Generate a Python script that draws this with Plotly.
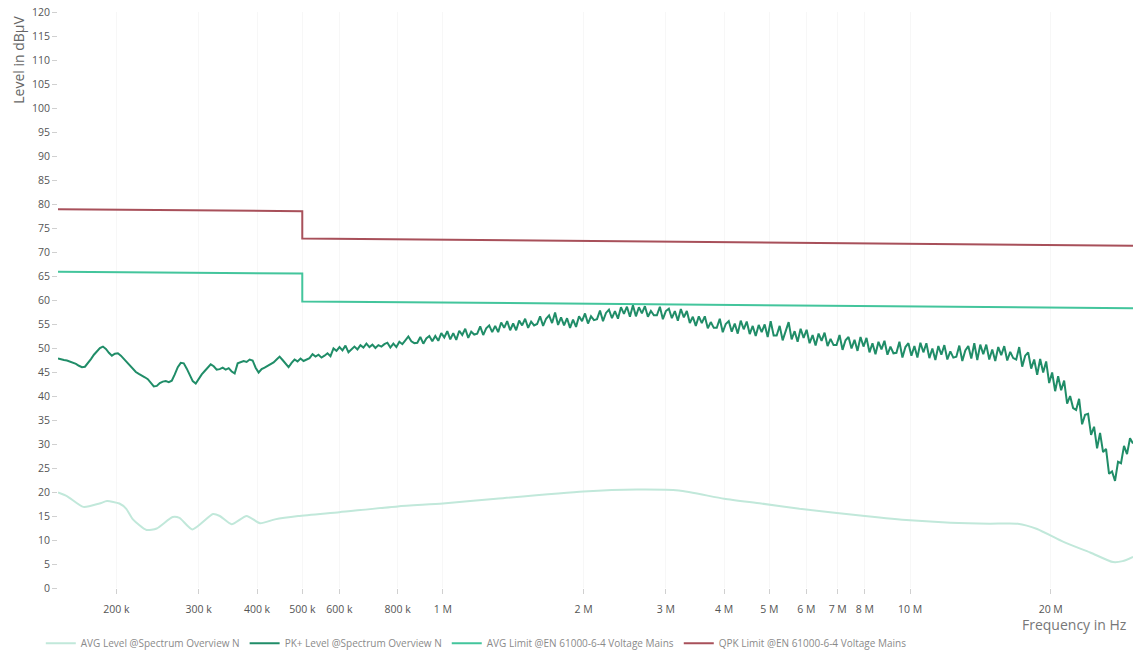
import numpy as np
import plotly.graph_objects as go

# ---------------- data ----------------
# PK+ level: analyser sweep on a log-spaced frequency grid 150 kHz .. 30 MHz (360 points)
PK_SWEEP_START_HZ = 150e3
PK_SWEEP_STOP_HZ = 30e6
PK_LEVEL = [
    47.8, 47.6, 47.5, 47.4, 47.2, 47.0, 46.7, 46.3, 46.0, 46.1,
    46.8, 47.7, 48.6, 49.4, 50.0, 50.3, 49.8, 49.0, 48.4, 48.8,
    48.9, 48.4, 47.7, 47.2, 46.5, 45.6, 45.0, 44.6, 44.3, 43.9,
    43.5, 42.7, 42.0, 42.1, 42.7, 43.0, 43.1, 42.9, 43.2, 44.5,
    46.0, 46.9, 46.8, 45.7, 44.3, 43.1, 42.6, 43.6, 44.5, 45.2,
    45.9, 46.6, 46.2, 45.5, 45.6, 45.9, 45.5, 45.8, 45.1, 44.7,
    46.8, 47.0, 47.3, 47.1, 47.6, 47.4, 45.9, 44.9, 45.6, 45.9,
    46.3, 46.6, 47.0, 47.6, 48.2, 47.5, 46.8, 46.0, 46.9, 47.6,
    47.2, 47.8, 47.3, 47.6, 47.9, 48.7, 48.2, 48.6, 48.0, 48.4,
    48.9, 48.3, 49.9, 49.4, 50.2, 49.5, 50.5, 49.1, 49.8, 50.3,
    49.7, 50.6, 50.1, 50.9, 50.2, 50.7, 50.0, 50.6, 50.3, 50.8,
    51.1, 50.1, 50.9, 50.2, 51.3, 50.8, 51.6, 52.4, 51.4, 51.0,
    51.1, 52.3, 50.9, 52.0, 52.5, 51.4, 52.5, 51.5, 53.1, 52.2,
    53.5, 51.8, 53.1, 51.7, 53.6, 52.7, 54.0, 52.1, 53.4, 52.8,
    53.0, 54.5, 52.7, 54.1, 54.7, 53.3, 54.6, 53.3, 55.3, 54.2,
    55.6, 53.7, 55.1, 53.7, 55.7, 54.7, 56.1, 54.2, 55.5, 54.7,
    55.0, 56.6, 54.6, 56.1, 56.8, 55.2, 57.4, 54.8, 56.4, 54.7,
    56.2, 54.2, 55.9, 54.4, 56.6, 55.6, 57.2, 55.1, 56.6, 55.8,
    56.0, 57.8, 55.6, 57.3, 58.0, 56.2, 57.7, 56.1, 58.5, 57.1,
    58.6, 56.5, 58.9, 56.6, 58.5, 57.2, 58.7, 56.5, 57.7, 56.8,
    56.8, 58.6, 56.0, 57.7, 58.2, 56.2, 57.7, 55.7, 58.1, 56.4,
    57.7, 55.2, 56.5, 54.6, 56.6, 55.2, 56.6, 54.1, 55.4, 54.2,
    54.2, 56.1, 53.3, 55.0, 55.6, 53.4, 55.1, 53.0, 55.7, 53.9,
    55.5, 52.9, 54.6, 52.5, 54.8, 53.3, 54.9, 52.3, 55.6, 52.6,
    52.6, 54.6, 51.6, 53.5, 55.4, 51.8, 53.5, 51.3, 54.0, 52.1,
    53.8, 51.0, 52.7, 50.5, 53.0, 51.5, 53.2, 50.4, 51.9, 50.6,
    50.6, 52.7, 49.6, 51.6, 52.3, 49.9, 51.7, 49.4, 52.3, 50.3,
    52.1, 49.1, 51.0, 48.7, 51.3, 49.7, 51.5, 48.6, 50.3, 48.9,
    49.0, 51.3, 48.0, 50.2, 51.0, 48.4, 50.4, 48.0, 51.1, 49.1,
    51.0, 47.9, 49.9, 47.5, 50.4, 48.6, 50.6, 47.6, 49.3, 48.0,
    48.2, 50.5, 47.3, 49.5, 50.4, 47.8, 51.0, 47.5, 50.7, 48.7,
    50.7, 47.6, 49.7, 47.3, 50.2, 48.5, 50.4, 47.4, 49.2, 47.9,
    47.6, 50.2, 46.1, 48.4, 49.1, 45.7, 47.6, 44.4, 47.7, 44.9,
    47.2, 42.7, 44.9, 41.0, 44.1, 41.2, 43.2, 38.4, 40.0, 37.5,
    37.1, 39.4, 34.1, 36.1, 36.3, 31.9, 33.6, 29.1, 32.3, 28.3,
    29.0, 23.8, 24.3, 22.3, 26.3, 26.0, 29.6, 27.9, 31.2, 30.1,
]

# AVG level (frequency in MHz, level in dBuV)
AVG_FREQ_MHZ = [0.150, 0.157, 0.170, 0.184, 0.191, 0.203, 0.210, 0.217, 0.232, 0.244,
                0.264, 0.273, 0.291, 0.322, 0.333, 0.353, 0.380, 0.406, 0.437, 0.49,
                0.60, 0.80, 1.0, 1.3, 2.0, 2.6, 3.2, 4.0, 4.8, 5.8,
                8.0, 10.0, 12.2, 14.8, 17.0, 18.7, 21.3, 24.3, 27.2, 28.5, 30.0]
AVG_LEVEL = [19.9, 19.1, 16.9, 17.6, 18.1, 17.6, 16.5, 14.3, 12.1, 12.4,
             14.8, 14.6, 12.2, 15.4, 15.0, 13.3, 15.0, 13.5, 14.3, 15.0,
             15.8, 17.0, 17.6, 18.6, 20.1, 20.5, 20.3, 18.6, 17.6, 16.5,
             15.0, 14.1, 13.6, 13.4, 13.4, 12.3, 9.6, 7.4, 5.4, 5.6, 6.5]

# Limits EN 61000-6-4 voltage mains
LIMIT_FREQ_MHZ = [0.15, 0.5, 0.5, 30.0]
AVG_LIMIT = [65.9, 65.5, 59.7, 58.3]
QPK_LIMIT = [78.9, 78.5, 72.8, 71.3]

X_TICK_HZ = [200e3, 300e3, 400e3, 500e3, 600e3, 800e3, 1e6, 2e6, 3e6, 4e6,
             5e6, 6e6, 7e6, 8e6, 10e6, 20e6]
X_TICK_TEXT = ["200 k", "300 k", "400 k", "500 k", "600 k", "800 k", "1 M", "2 M",
               "3 M", "4 M", "5 M", "6 M", "7 M", "8 M", "10 M", "20 M"]

NAMES = ["AVG Level @Spectrum Overview N", "PK+ Level @Spectrum Overview N",
         "AVG Limit @EN 61000-6-4 Voltage Mains", "QPK Limit @EN 61000-6-4 Voltage Mains"]
COLORS = ["#c1e8da", "#208d68", "#43c59c", "#a8505a"]

# ---------------- figure ----------------
pk_freq = np.geomspace(PK_SWEEP_START_HZ, PK_SWEEP_STOP_HZ, len(PK_LEVEL))
avg_freq = [f * 1e6 for f in AVG_FREQ_MHZ]
lim_freq = [f * 1e6 for f in LIMIT_FREQ_MHZ]

FONT = "Open Sans, Noto Sans, sans-serif"
fig = go.Figure()
fig.add_trace(go.Scatter(x=avg_freq, y=AVG_LEVEL, mode="lines", name=NAMES[0],
                         line=dict(color=COLORS[0], width=2, shape="spline", smoothing=0.6)))
fig.add_trace(go.Scatter(x=pk_freq, y=PK_LEVEL, mode="lines", name=NAMES[1],
                         line=dict(color=COLORS[1], width=2)))
fig.add_trace(go.Scatter(x=lim_freq, y=AVG_LIMIT, mode="lines", name=NAMES[2],
                         line=dict(color=COLORS[2], width=2)))
fig.add_trace(go.Scatter(x=lim_freq, y=QPK_LIMIT, mode="lines", name=NAMES[3],
                         line=dict(color=COLORS[3], width=2)))

fig.update_layout(
    width=1135, height=653,
    margin=dict(l=58, r=2, t=12, b=65, autoexpand=False),
    paper_bgcolor="white", plot_bgcolor="white",
    font=dict(family=FONT, size=10, color="#555555"),
    showlegend=True,
    legend=dict(orientation="h", x=-0.016, xanchor="left", y=-0.096, yanchor="middle",
                font=dict(size=10, color="#8a8a8a"), itemwidth=30,
                bgcolor="rgba(0,0,0,0)", tracegroupgap=0),
    xaxis=dict(type="log", range=[np.log10(PK_SWEEP_START_HZ), np.log10(PK_SWEEP_STOP_HZ)],
               tickmode="array", tickvals=X_TICK_HZ, ticktext=X_TICK_TEXT,
               ticks="outside", ticklen=5, tickcolor="#d0d0d0", tickwidth=1,
               ticklabelstandoff=6, automargin=False,
               showgrid=True, gridcolor="#f7f7f7", zeroline=False, showline=False,
               tickfont=dict(size=10.5, color="#555555")),
    yaxis=dict(range=[0, 120], tickmode="linear", tick0=0, dtick=5,
               ticks="outside", ticklen=5, tickcolor="#d0d0d0", tickwidth=1,
               automargin=False,
               showgrid=False, zeroline=False, showline=False,
               tickfont=dict(size=10.5, color="#555555")),
    annotations=[
        dict(text="Level in dBµV", xref="paper", yref="paper", x=-0.0363, y=0.917,
             xanchor="center", yanchor="middle", textangle=-90, showarrow=False,
             font=dict(size=14, color="#666666", family=FONT)),
        dict(text="Frequency in Hz", xref="paper", yref="paper", x=0.996, y=-0.0625,
             xanchor="right", yanchor="middle", showarrow=False,
             font=dict(size=14, color="#777777", family=FONT)),
    ],
)

fig.write_html("out.html", config={"displayModeBar": False},
               post_script="document.body.style.margin='0';")
